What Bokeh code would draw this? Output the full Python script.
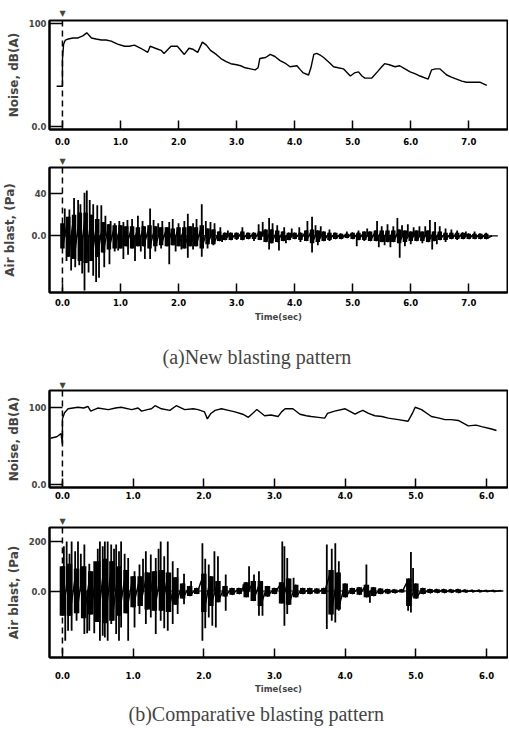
from bokeh.plotting import figure
from bokeh.layouts import column
from bokeh.models import Range1d, FixedTicker, Span, Title
from bokeh.embed import file_html
from bokeh.resources import INLINE

# ---------------- data ----------------
# (a) New blasting pattern - noise level, dB(A)
na_t = [-0.10, 0.00, 0.00, 0.02, 0.05, 0.10, 0.18, 0.27, 0.35, 0.42, 0.50, 0.58, 0.67, 0.75, 0.84, 0.95,
        1.07, 1.15, 1.24, 1.35, 1.47, 1.51, 1.60, 1.70, 1.75, 1.87, 1.98, 2.10, 2.18, 2.25, 2.33, 2.41,
        2.48, 2.55, 2.65, 2.73, 2.82, 2.90, 3.00, 3.07, 3.15, 3.24, 3.32, 3.37, 3.40, 3.50, 3.58, 3.66,
        3.75, 3.85, 3.92, 4.04, 4.10, 4.15, 4.24, 4.28, 4.33, 4.38, 4.45, 4.50, 4.60, 4.67, 4.75, 4.84,
        4.96, 5.03, 5.10, 5.16, 5.21, 5.33, 5.44, 5.50, 5.55, 5.63, 5.73, 5.81, 5.90, 5.99, 6.08, 6.16,
        6.30, 6.36, 6.43, 6.50, 6.62, 6.70, 6.79, 6.88, 6.96, 7.10, 7.19, 7.31]
na_v = [39, 39, 65, 80, 84, 85, 86, 86, 88, 91, 86, 85, 84, 84, 83, 80,
        78, 78, 79, 76, 72, 78, 76, 74, 71, 78, 78, 70, 76, 75, 72, 82,
        79, 74, 70, 66, 63, 61, 60, 59, 57, 56, 55, 57, 66, 67, 70, 68,
        64, 61, 58, 59, 55, 52, 50, 57, 70, 71, 69, 67, 62, 58, 57, 56,
        49, 52, 53, 49, 47, 47, 54, 58, 61, 60, 58, 59, 56, 53, 51, 49,
        46, 55, 56, 56, 50, 48, 46, 44, 43, 43, 43, 40]

# (a) air blast, Pa : dense-core envelope sampled every 0.1 s
a_env_t = [0.0, 0.1, 0.2, 0.3, 0.4, 0.5, 0.6, 0.7, 0.8, 0.9, 1.0, 1.1, 1.2, 1.3, 1.4, 1.5, 1.6, 1.7, 1.8, 1.9,
           2.0, 2.1, 2.2, 2.3, 2.4, 2.5, 2.6, 2.7, 2.8, 2.9, 3.0, 3.1, 3.2, 3.3, 3.4, 3.5, 3.6, 3.7, 3.8, 3.9,
           4.0, 4.1, 4.2, 4.3, 4.4, 4.5, 4.6, 4.7, 4.8, 4.9, 5.0, 5.1, 5.2, 5.3, 5.4, 5.5, 5.6, 5.7, 5.8, 5.9,
           6.0, 6.1, 6.2, 6.3, 6.4, 6.5, 6.6, 6.7, 6.8, 6.9, 7.0, 7.1, 7.2, 7.3, 7.4]
a_env_hi = [12, 18, 20, 22, 22, 20, 16, 13, 11, 10, 10, 9, 9, 8, 9, 10, 9, 8, 8, 7,
            8, 8, 9, 8, 10, 7, 6, 4, 3, 3, 3, 4, 3, 3, 4, 6, 6, 5, 4, 3,
            3, 3, 5, 6, 5, 4, 3, 3, 2, 2, 3, 3, 4, 4, 5, 5, 5, 5, 6, 5,
            4, 5, 4, 5, 4, 4, 3, 3, 3, 3, 2, 2, 2, 2, 0]
a_env_lo = [-12, -20, -22, -24, -26, -24, -20, -16, -13, -12, -12, -10, -12, -10, -10, -12, -10, -9, -10, -9,
            -10, -12, -10, -10, -12, -8, -8, -5, -4, -4, -3, -4, -3, -3, -4, -6, -7, -6, -5, -4,
            -3, -4, -5, -7, -6, -5, -4, -3, -3, -2, -3, -4, -4, -5, -5, -6, -6, -6, -7, -6,
            -5, -5, -5, -6, -5, -4, -4, -3, -3, -3, -3, -3, -3, -3, 0]
# (a) air blast: individual positive / negative peaks
a_up_t = [0.04, 0.12, 0.20, 0.27, 0.31, 0.38, 0.42, 0.47, 0.53, 0.60, 0.67, 0.74, 0.83, 0.90, 0.98, 1.05,
          1.12, 1.20, 1.30, 1.38, 1.51, 1.57, 1.65, 1.72, 1.84, 1.90, 2.00, 2.10, 2.16, 2.25, 2.31, 2.40,
          2.47, 2.55, 2.62, 2.72, 2.85, 3.10, 3.38, 3.45, 3.56, 3.62, 3.70, 3.82, 3.95, 4.08, 4.22, 4.30,
          4.36, 4.45, 4.60, 4.90, 5.10, 5.25, 5.42, 5.50, 5.60, 5.70, 5.77, 5.85, 5.95, 6.05, 6.15, 6.25,
          6.33, 6.42, 6.50, 6.60, 6.70, 6.80, 6.95, 7.10, 7.30]
a_up_v = [26, 25, 36, 34, 30, 41, 43, 34, 30, 29, 29, 19, 14, 12, 14, 13,
          15, 16, 19, 14, 26, 15, 12, 14, 13, 16, 12, 14, 21, 12, 16, 30,
          14, 13, 12, 8, 5, 8, 11, 13, 17, 12, 10, 8, 7, 8, 14, 18,
          10, 9, 6, 4, 5, 7, 14, 9, 11, 9, 17, 10, 11, 8, 9, 9,
          15, 13, 9, 7, 6, 5, 4, 4, 3]
a_dn_t = [0.07, 0.15, 0.22, 0.29, 0.34, 0.38, 0.45, 0.53, 0.58, 0.63, 0.72, 0.81, 0.90, 0.96, 1.05, 1.13,
          1.25, 1.35, 1.42, 1.51, 1.60, 1.70, 1.84, 1.95, 2.05, 2.16, 2.25, 2.40, 2.50, 2.60, 2.75, 3.00,
          3.30, 3.56, 3.73, 3.85, 4.10, 4.30, 4.40, 4.60, 5.07, 5.20, 5.45, 5.55, 5.65, 5.81, 5.90, 6.00,
          6.20, 6.37, 6.45, 6.60, 6.80, 7.00, 7.20]
a_dn_v = [-24, -33, -30, -28, -36, -52, -35, -38, -44, -40, -30, -27, -15, -14, -22, -18,
          -24, -15, -22, -22, -15, -12, -27, -15, -13, -21, -13, -20, -12, -9, -6, -4,
          -5, -13, -14, -7, -6, -16, -9, -5, -10, -5, -11, -9, -11, -21, -10, -8,
          -7, -13, -8, -6, -4, -3, -3]
a_rec_t = [0.0, 7.50]   # record start / end (trace rests on 0)
a_rec_v = [0, 0]

# (b) Comparative blasting pattern - noise level, dB(A)
nb_t = [-0.17, -0.08, -0.02, 0.00, 0.00, 0.03, 0.08, 0.15, 0.22, 0.30, 0.36, 0.40, 0.50, 0.65, 0.75, 0.83,
        0.98, 1.07, 1.12, 1.20, 1.26, 1.31, 1.40, 1.52, 1.61, 1.73, 1.85, 1.92, 2.01, 2.05, 2.10, 2.16,
        2.25, 2.35, 2.44, 2.55, 2.63, 2.75, 2.86, 2.95, 3.05, 3.10, 3.15, 3.26, 3.36, 3.45, 3.52, 3.62,
        3.71, 3.75, 3.85, 4.00, 4.14, 4.20, 4.25, 4.33, 4.42, 4.52, 4.61, 4.75, 4.89, 4.95, 4.99, 5.08,
        5.22, 5.33, 5.41, 5.50, 5.60, 5.74, 5.85, 5.93, 6.07, 6.14]
nb_v = [60, 62, 66, 52, 85, 93, 98, 99, 100, 99, 101, 95, 99, 97, 99, 100,
        97, 99, 95, 97, 98, 102, 98, 96, 102, 97, 98, 97, 94, 85, 92, 96,
        98, 96, 94, 91, 87, 97, 89, 90, 88, 94, 98, 98, 91, 89, 88, 87,
        86, 92, 95, 98, 91, 94, 96, 92, 89, 88, 86, 84, 82, 92, 100, 97,
        88, 86, 84, 84, 83, 76, 77, 75, 72, 70]

# (b) air blast, Pa : dense-core envelope sampled every 0.1 s
b_env_t = [0.0, 0.1, 0.2, 0.3, 0.4, 0.5, 0.6, 0.7, 0.8, 0.9, 1.0, 1.1, 1.2, 1.3, 1.4, 1.5, 1.6, 1.7, 1.8, 1.9,
           2.0, 2.1, 2.2, 2.3, 2.4, 2.5, 2.6, 2.7, 2.8, 2.9, 3.0, 3.1, 3.2, 3.3, 3.4, 3.5, 3.6, 3.7, 3.8, 3.9,
           4.0, 4.1, 4.2, 4.3, 4.4, 4.5, 4.6, 4.7, 4.8, 4.9, 5.0, 5.1, 5.2, 5.3, 5.4, 5.5, 5.6, 5.7, 5.8, 5.9,
           6.0, 6.1, 6.2]
b_env_hi = [100, 110, 90, 100, 80, 120, 130, 120, 100, 85, 60, 60, 75, 80, 85, 75, 55, 30, 20, 12,
            70, 60, 40, 20, 12, 12, 35, 40, 40, 20, 12, 35, 50, 25, 12, 12, 10, 12, 85, 75,
            30, 12, 15, 25, 15, 10, 8, 6, 6, 50, 30, 12, 8, 7, 7, 6, 7, 5, 4, 4,
            3, 3, 2]
b_env_lo = [-100, -100, -90, -110, -95, -125, -130, -120, -100, -90, -65, -60, -75, -80, -80, -85, -55, -30, -20, -12,
            -85, -60, -45, -22, -15, -12, -25, -40, -60, -22, -12, -50, -55, -25, -12, -12, -10, -12, -95, -75,
            -25, -12, -15, -25, -20, -12, -10, -8, -6, -60, -30, -12, -8, -7, -7, -6, -7, -5, -4, -4,
            -3, -3, -2]
b_up_t = [0.02, 0.06, 0.10, 0.13, 0.18, 0.22, 0.26, 0.31, 0.38, 0.45, 0.50, 0.53, 0.57, 0.60, 0.64, 0.69,
          0.73, 0.76, 0.80, 0.83, 0.88, 0.93, 1.02, 1.09, 1.14, 1.18, 1.25, 1.32, 1.36, 1.39, 1.44, 1.49,
          1.56, 1.63, 1.72, 1.82, 1.98, 2.02, 2.07, 2.15, 2.20, 2.31, 2.56, 2.64, 2.71, 2.78, 3.11, 3.14,
          3.18, 3.27, 3.74, 3.81, 3.86, 3.91, 4.30, 4.93, 4.96]
b_up_v = [180, 200, 150, 200, 160, 200, 150, 187, 110, 120, 170, 200, 180, 200, 200, 187,
          170, 187, 160, 200, 150, 133, 80, 107, 130, 160, 147, 133, 170, 200, 140, 200,
          120, 93, 70, 40, 193, 130, 107, 160, 140, 67, 27, 100, 67, 80, 200, 180,
          133, 53, 187, 170, 193, 120, 107, 157, 93]
b_dn_t = [0.04, 0.08, 0.13, 0.20, 0.31, 0.35, 0.38, 0.45, 0.53, 0.57, 0.60, 0.64, 0.69, 0.76, 0.80, 0.83,
          0.93, 1.02, 1.09, 1.18, 1.25, 1.32, 1.39, 1.44, 1.49, 1.56, 1.63, 1.72, 1.98, 2.02, 2.07, 2.12,
          2.17, 2.31, 2.78, 2.83, 3.14, 3.18, 3.74, 3.81, 3.86, 3.91, 4.35, 4.89, 4.93]
b_dn_v = [-200, -160, -160, -120, -173, -170, -160, -170, -200, -180, -187, -200, -133, -173, -200, -147,
          -200, -147, -93, -133, -107, -173, -120, -150, -160, -133, -93, -53, -200, -150, -107, -140,
          -147, -80, -100, -100, -140, -93, -153, -120, -127, -80, -47, -80, -87]
b_rec_t = [0.0, 6.23]
b_rec_v = [0, 0]

# ticks
xt_a = [0.0, 1.0, 2.0, 3.0, 4.0, 5.0, 6.0, 7.0]
xt_b = [0.0, 1.0, 2.0, 3.0, 4.0, 5.0, 6.0]
yt_noise = [0, 100]
yl_noise = ["0.0", "100"]
yt_air_a = [0, 40]
yl_air_a = ["0.0", "40"]
yt_air_b = [0, 200]
yl_air_b = ["0.0", "200"]

SANS = "DejaVu Sans"
SERIF = "Liberation Serif"
W = 508


def trigger_mark(standoff):
    return Title(text="\u25bc", text_font=SANS, text_font_size="8px", text_font_style="normal",
                 align="left", offset=10, standoff=standoff, vertical_align="bottom")


def panel(h, btop, bbot, xr, yr, xticks, yticks, ylabels, ylabel, ylab_standoff, xlab_standoff,
          xlabel=None):
    p = figure(width=W, height=h, x_range=Range1d(*xr), y_range=Range1d(*yr),
               output_backend="svg", toolbar_location=None,
               min_border_left=48, min_border_right=1, min_border_top=btop, min_border_bottom=bbot)
    p.xgrid.visible = False
    p.ygrid.visible = False
    p.outline_line_color = "black"
    p.outline_line_width = 2
    p.outline_line_alpha = 1.0
    p.background_fill_color = "white"
    p.border_fill_color = "white"

    xa = p.xaxis[0]
    xa.ticker = FixedTicker(ticks=xticks)
    xa.major_label_overrides = {t: f"{t:.1f}" for t in xticks}
    xa.major_tick_in = 9
    xa.major_tick_out = 0
    xa.minor_tick_line_color = None
    xa.axis_line_width = 2
    xa.major_tick_line_width = 1.5
    xa.major_label_text_font = SANS
    xa.major_label_text_font_style = "bold"
    xa.major_label_text_font_size = "8.5px"
    xa.major_label_text_color = "black"
    xa.major_label_standoff = xlab_standoff
    if xlabel:
        xa.axis_label = xlabel
        xa.axis_label_text_font = SANS
        xa.axis_label_text_font_style = "bold"
        xa.axis_label_text_font_size = "8.5px"

    ya = p.yaxis[0]
    ya.ticker = FixedTicker(ticks=yticks)
    ya.major_label_overrides = {t: l for t, l in zip(yticks, ylabels)}
    ya.major_tick_in = 13
    ya.major_tick_out = 0
    ya.minor_tick_line_color = None
    ya.axis_line_width = 2
    ya.major_tick_line_width = 1.5
    ya.major_label_text_font = SANS
    ya.major_label_text_font_style = "bold"
    ya.major_label_text_font_size = "8.5px"
    ya.major_label_standoff = 3
    ya.axis_label = ylabel
    ya.axis_label_text_font = SANS
    ya.axis_label_text_font_style = "bold"
    ya.axis_label_text_font_size = "12px"
    ya.axis_label_standoff = ylab_standoff

    # trigger: dashed line at t = 0
    p.add_layout(Span(location=0, dimension="height", line_color="black",
                      line_width=1.5, line_dash="6 4"))
    return p


def air_trace(p, env_t, hi, lo, up_t, up_v, dn_t, dn_v, rec_t, rec_v, core_w):
    p.line(rec_t, rec_v, line_color="black", line_width=1.2)
    # dense oscillation core: heavy strokes between the read envelope values, joined by a zig-zag
    p.segment(x0=env_t, y0=lo, x1=env_t, y1=hi, line_color="black", line_width=core_w)
    zx, zy = [], []
    for t, a, b in zip(env_t, hi, lo):
        zx += [t, t]
        zy += [a, b]
    p.line(zx, zy, line_color="black", line_width=1.5)
    # individual peaks
    p.segment(x0=up_t, y0=[0] * len(up_t), x1=up_t, y1=up_v, line_color="black", line_width=1.8)
    p.segment(x0=dn_t, y0=[0] * len(dn_t), x1=dn_t, y1=dn_v, line_color="black", line_width=1.8)


XR_A = (-0.223, 7.667)
XR_B = (-0.183, 6.296)

# ---- (a) noise ----
p1 = panel(150, 20, 21, XR_A, (-3, 103), xt_a, yt_noise, yl_noise, "Noise, dB(A)", 5, 8)
p1.add_layout(trigger_mark(6), "above")
p1.line(na_t, na_v, line_color="black", line_width=1.4)

# ---- (a) air blast ----
p2 = panel(175, 17, 33, XR_A, (-54, 65), xt_a, yt_air_a, yl_air_a, "Air blast, (Pa)", 11, 6,
           xlabel="Time(sec)")
p2.xaxis[0].axis_label_standoff = 3
p2.add_layout(trigger_mark(4), "above")
air_trace(p2, a_env_t, a_env_hi, a_env_lo, a_up_t, a_up_v, a_dn_t, a_dn_v, a_rec_t, a_rec_v, 4.5)

# ---- (b) noise (caption of (a) sits above it) ----
p3 = panel(185, 65, 23, XR_B, (-3.5, 121.6), xt_b, yt_noise, yl_noise, "Noise, dB(A)", 5, 4)
p3.add_layout(trigger_mark(2), "above")
p3.add_layout(Title(text="(a)New blasting pattern", text_font=SERIF, text_font_size="20px",
                    text_font_style="normal", align="left", offset=113, standoff=20,
                    vertical_align="bottom"), "above")
p3.line(nb_t, nb_v, line_color="black", line_width=1.4)

# ---- (b) air blast ----
p4 = panel(220, 17, 73, XR_B, (-268, 256), xt_b, yt_air_b, yl_air_b, "Air blast, (Pa)", 5, 14,
           xlabel="Time(sec)")
p4.xaxis[0].axis_label_standoff = 2
p4.add_layout(trigger_mark(4), "above")
air_trace(p4, b_env_t, b_env_hi, b_env_lo, b_up_t, b_up_v, b_dn_t, b_dn_v, b_rec_t, b_rec_v, 5.5)
p4.add_layout(Title(text="(b)Comparative blasting pattern", text_font=SERIF, text_font_size="20px",
                    text_font_style="normal", align="left", offset=79, standoff=9,
                    vertical_align="bottom"), "below")

layout = column(p1, p2, p3, p4, spacing=0)
open("out.html", "w").write(file_html(layout, INLINE))
